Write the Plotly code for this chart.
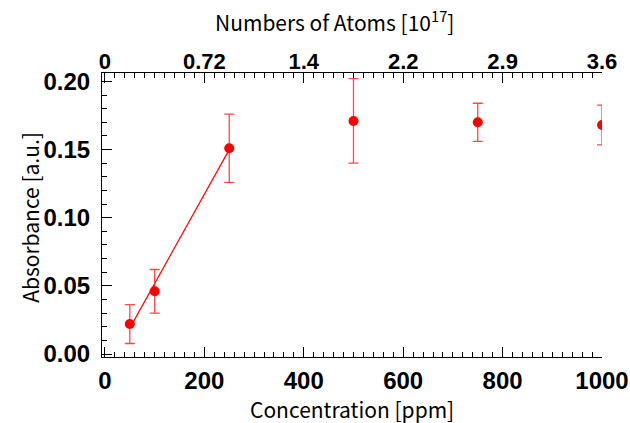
import plotly.graph_objects as go

# Data
concentration = [50, 100, 250, 500, 750, 1000]
absorbance = [0.022, 0.046, 0.151, 0.171, 0.170, 0.168]
abs_error = [0.0143, 0.016, 0.025, 0.031, 0.014, 0.0146]

fit_x = [50, 250]
fit_y = [0.019, 0.150]

bottom_ticks = [0, 200, 400, 600, 800, 1000]
top_tick_text = ["0", "0.72", "1.4", "2.2", "2.9", "3.6"]
y_ticks = [0.00, 0.05, 0.10, 0.15, 0.20]
y_tick_text = ["0.00", "0.05", "0.10", "0.15", "0.20"]

x_title = "Concentration [ppm]"
x2_title = "Numbers of Atoms [10<sup>17</sup>]"
y_title = "Absorbance [a.u.]"

RED = "#ff0000"
TITLE_FONT = dict(family="Noto Sans CJK JP", size=21, color="black")
TICK_FONT = dict(family="Liberation Sans", size=24, color="black", weight="bold")
TOP_TICK_FONT = dict(family="Liberation Sans", size=22, color="black", weight="bold")

fig = go.Figure()

fig.add_trace(go.Scatter(
    x=fit_x, y=fit_y, mode="lines",
    line=dict(color=RED, width=1.2), hoverinfo="skip", showlegend=False,
))
fig.add_trace(go.Scatter(
    x=concentration, y=absorbance, mode="markers",
    marker=dict(color=RED, size=10),
    error_y=dict(type="data", array=abs_error, visible=True,
                 color="rgba(255,40,40,0.85)", thickness=1.3, width=5),
    showlegend=False,
))
# invisible trace to carry the top axis
fig.add_trace(go.Scatter(
    x=[bottom_ticks[0], bottom_ticks[-1]], y=[None, None], xaxis="x2",
    mode="markers", marker=dict(opacity=0), showlegend=False, hoverinfo="skip",
))

xrange = [-6, 1000]
common = dict(
    ticks="inside", ticklen=10, tickwidth=1, tickcolor="black",
    showline=True, linecolor="black", linewidth=1,
    showgrid=False, zeroline=False, automargin=False,
)
fig.update_layout(
    width=630, height=423,
    margin=dict(l=102, r=28, t=73, b=66),
    paper_bgcolor="white", plot_bgcolor="white",
    xaxis=dict(
        range=xrange, tickvals=bottom_ticks,
        minor=dict(ticks="inside", dtick=20, tick0=0, ticklen=5, tickcolor="black", showgrid=False),
        tickfont=TICK_FONT, ticklabelstandoff=2, **common,
    ),
    xaxis2=dict(
        range=xrange, overlaying="x", side="top", anchor="y",
        tickvals=bottom_ticks, ticktext=top_tick_text,
        minor=dict(ticks="inside", dtick=20, tick0=0, ticklen=5, tickcolor="black", showgrid=False),
        tickfont=TOP_TICK_FONT, ticklabelstandoff=-6, **common,
    ),
    yaxis=dict(
        range=[-0.0022, 0.2062], tickvals=y_ticks, ticktext=y_tick_text,
        minor=dict(ticks="inside", dtick=0.01, tick0=0, ticklen=5, tickcolor="black", showgrid=False),
        tickfont=TICK_FONT, ticklabelstandoff=6, **common,
    ),
    annotations=[
        dict(text=x_title, xref="paper", yref="paper", x=0.5, y=-0.184,
             xanchor="center", yanchor="middle", showarrow=False, font=TITLE_FONT),
        dict(text=x2_title, xref="paper", yref="paper", x=0.465, y=1.183,
             xanchor="center", yanchor="middle", showarrow=False, font=TITLE_FONT),
        dict(text=y_title, xref="paper", yref="paper", x=-0.144, y=0.49,
             xanchor="center", yanchor="middle", showarrow=False, textangle=-90,
             font=TITLE_FONT),
    ],
)

fig.write_html(
    "out.html",
    config={"displayModeBar": False},
    post_script="document.body.style.margin='0';document.body.style.overflow='hidden';",
)
